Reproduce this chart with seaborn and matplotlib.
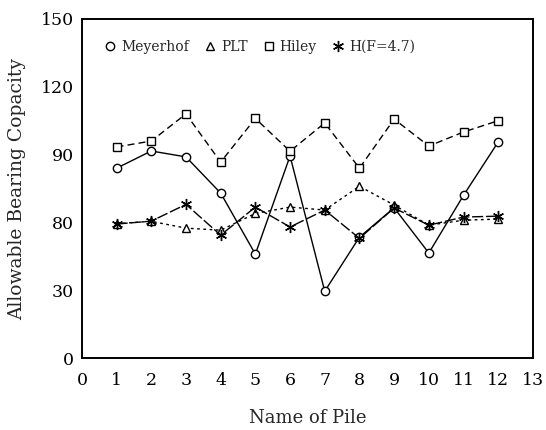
import matplotlib
matplotlib.use("Agg")
import matplotlib.pyplot as plt
import seaborn as sns
import pandas as pd
from matplotlib.lines import Line2D

piles = [1, 2, 3, 4, 5, 6, 7, 8, 9, 10, 11, 12]
meyerhof = [84, 91.6, 89, 73, 46, 89.4, 29.6, 53.5, 66.5, 46.5, 72, 95.6]
plt_vals = [59.5, 60.5, 57.5, 56.6, 64, 66.8, 65.5, 76, 67.7, 58.8, 61, 61.5]
hiley = [93.4, 96, 108, 86.7, 106, 91.5, 104, 84, 105.7, 93.8, 100, 105]
h_f47 = [59.3, 60.6, 68, 54.4, 66.8, 58, 65.5, 53, 66.4, 58.8, 62.4, 62.8]

series_names = ["Meyerhof", "PLT", "Hiley", "H(F=4.7)"]
x_ticks = list(range(0, 14))
y_ticks = [0, 30, 60, 90, 120, 150]
y_tick_labels = ["0", "30", "80", "90", "120", "150"]

sns.set_theme(style="white")
plt.rcParams["font.family"] = ["DejaVu Serif"]

fig = plt.figure(figsize=(5.46, 4.30), dpi=100)
ax = fig.add_axes([0.150, 0.167, 0.826, 0.789])

star = (6, 2, 0)
styles = [
    dict(marker="o", linestyle="-", ms=6),
    dict(marker="^", linestyle=(0, (2, 2.5)), ms=6),
    dict(marker="s", linestyle=(0, (5, 3)), ms=6),
    dict(marker=star, linestyle=(0, (8, 2)), ms=8),
]
data = [meyerhof, plt_vals, hiley, h_f47]

for name, vals, st in zip(series_names, data, styles):
    df = pd.DataFrame({"pile": piles, "value": vals})
    sns.lineplot(data=df, x="pile", y="value", ax=ax, color="black",
                 linewidth=1.0, linestyle=st["linestyle"], marker=st["marker"],
                 markersize=st["ms"], markerfacecolor="white",
                 markeredgecolor="black", markeredgewidth=1.0)

ax.set_xlim(0, 13)
ax.set_ylim(0, 150)
ax.set_xticks(x_ticks)
ax.set_xticklabels([str(t) for t in x_ticks])
ax.set_yticks(y_ticks)
ax.set_yticklabels(y_tick_labels)
ax.tick_params(axis="both", direction="in", length=4, width=1.2,
               labelsize=12.5, colors="black", pad=6)
ax.tick_params(axis="x", pad=10)
for sp in ax.spines.values():
    sp.set_color("black")
    sp.set_linewidth(1.4)

ax.set_xlabel("Name of Pile", fontsize=13, labelpad=14)
ax.set_ylabel("Allowable Bearing Copacity", fontsize=13.5, labelpad=10)

handles = [Line2D([], [], color="black", linestyle="none", marker=st["marker"],
                  markersize=st["ms"], markerfacecolor="white",
                  markeredgecolor="black") for st in styles]
ax.legend(handles, series_names, loc="upper left", bbox_to_anchor=(0.02, 0.975),
          ncol=4, frameon=False, fontsize=10, handletextpad=0.3,
          columnspacing=1.0, handlelength=1.0)

fig.savefig("out.png", dpi=100)
